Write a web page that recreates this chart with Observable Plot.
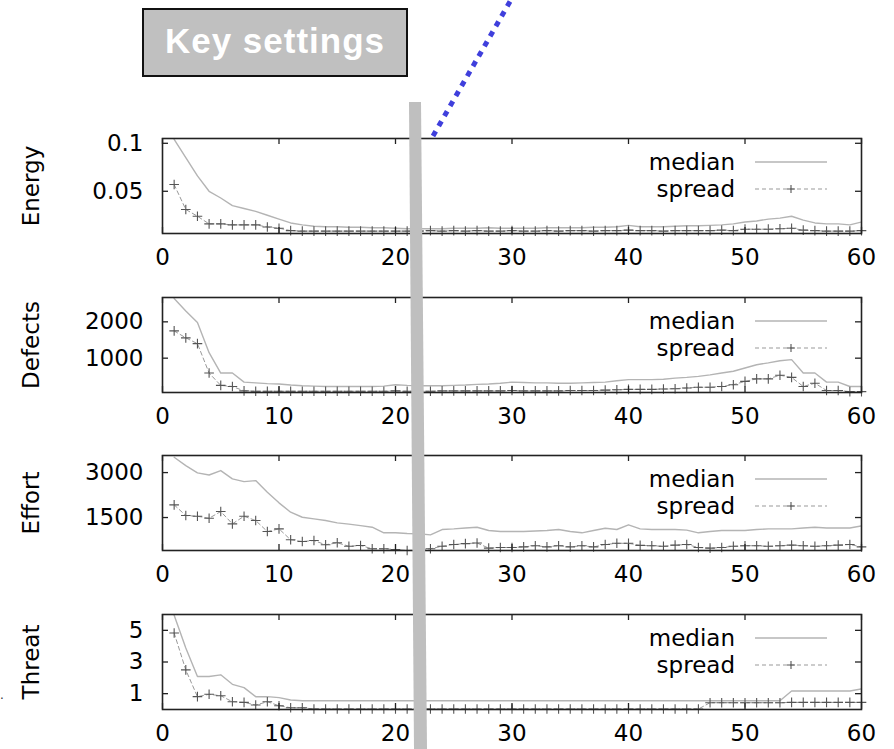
<!DOCTYPE html>
<html>
<head>
<meta charset="utf-8">
<script src="https://cdn.jsdelivr.net/npm/d3@7"></script>
<script src="https://cdn.jsdelivr.net/npm/@observablehq/plot@0.6"></script>
<style>
  html, body { margin: 0; padding: 0; background: #fff; }
  body { width: 894px; height: 749px; position: relative; overflow: hidden; }
  .panel { position: absolute; left: 0; }
  #overlay { position: absolute; left: 0; top: 0; }
</style>
</head>
<body>
<div id="panels"></div>
<svg id="overlay" width="894" height="749"></svg>
<script>
// ---------- data ----------
const generations = [1,2,3,4,5,6,7,8,9,10,11,12,13,14,15,16,17,18,19,20,21,22,23,24,25,26,27,28,29,30,31,32,33,34,35,36,37,38,39,40,41,42,43,44,45,46,47,48,49,50,51,52,53,54,55,56,57,58,59,60];
const xTicks = [0, 10, 20, 30, 40, 50, 60];
const seriesNames = ["median", "spread"];

const energyMedian = [0.104,0.085,0.066,0.050,0.043,0.035,0.032,0.029,0.025,0.021,
  0.017,0.015,0.0135,0.013,0.013,0.0125,0.0125,0.012,0.012,0.0115,
  0.011,0.011,0.011,0.011,0.0115,0.0115,0.0115,0.012,0.0115,0.0115,
  0.0115,0.0115,0.012,0.012,0.012,0.012,0.0125,0.0125,0.013,0.0145,
  0.013,0.013,0.013,0.0135,0.014,0.014,0.0145,0.015,0.016,0.018,
  0.019,0.021,0.022,0.024,0.020,0.017,0.016,0.016,0.015,0.018];
const energySpread = [0.057,0.031,0.024,0.016,0.016,0.015,0.015,0.015,0.0128,0.0115,
  0.009,0.0085,0.0085,0.0085,0.0085,0.0085,0.0085,0.0085,0.0085,0.0085,
  0.0085,0.0085,0.009,0.0085,0.009,0.0085,0.009,0.0085,0.0085,0.009,
  0.0085,0.0085,0.009,0.0085,0.009,0.009,0.0085,0.009,0.009,0.0095,
  0.009,0.009,0.0085,0.009,0.009,0.009,0.009,0.0095,0.009,0.0105,
  0.0105,0.0105,0.011,0.0115,0.0095,0.009,0.0085,0.0085,0.0085,0.009];

const defectsMedian = [2640,2300,1980,1150,590,590,340,320,300,290,
  260,240,230,220,220,220,220,220,230,270,
  250,240,240,240,250,260,280,290,310,340,
  330,320,320,310,310,320,330,340,380,410,
  410,410,420,450,470,500,540,590,640,730,
  820,870,930,960,590,590,340,340,220,220];
const defectsSpread = [1750,1560,1400,590,250,220,100,90,90,90,
  90,90,90,90,90,90,90,90,90,100,
  90,90,90,100,100,100,100,100,100,110,
  100,100,100,100,110,110,110,120,130,140,
  140,140,150,160,180,200,200,220,270,360,
  430,430,530,470,220,310,110,110,80,80];

const effortMedian = [3510,3233,2990,2920,3067,2790,2700,2733,2343,1990,
  1677,1510,1457,1400,1323,1280,1230,1177,990,990,
  967,957,923,1100,1120,1150,1177,1067,1033,1033,
  1033,1050,1067,1100,1033,990,1067,1144,1100,1257,
  1120,1100,1100,1100,1080,990,1033,1067,1067,1067,
  1100,1120,1120,1120,1150,1177,1150,1150,1150,1220];
const effortSpread = [1923,1567,1543,1477,1700,1290,1543,1400,1033,1123,
  757,700,733,590,657,543,567,457,457,433,
  400,420,457,543,600,630,650,480,500,500,
  520,560,520,560,520,560,520,600,640,640,
  570,560,540,580,600,500,480,500,540,560,
  560,540,560,580,560,540,560,580,600,520];

const threatMedian = [5.95,3.88,2.08,2.08,2.19,1.59,1.38,0.81,0.81,0.75,
  0.6,0.55,0.55,0.55,0.55,0.55,0.55,0.55,0.55,0.55,
  0.55,0.55,0.55,0.55,0.55,0.55,0.55,0.55,0.55,0.55,
  0.55,0.55,0.55,0.55,0.55,0.55,0.55,0.55,0.55,0.55,
  0.55,0.55,0.55,0.55,0.55,0.55,0.55,0.55,0.55,0.55,
  0.55,0.55,0.55,1.17,1.17,1.17,1.17,1.17,1.17,1.3];
const threatSpread = [4.83,2.5,0.81,0.96,0.87,0.49,0.45,0.28,0.49,0.24,
  0.11,0.11,0.03,0.03,0.03,0.03,0.03,0.03,0.03,0.03,
  0.03,0.03,0.03,0.03,0.03,0.03,0.03,0.03,0.03,0.03,
  0.03,0.03,0.03,0.03,0.03,0.03,0.03,0.03,0.03,0.03,
  0.03,0.03,0.03,0.03,0.03,0.03,0.43,0.43,0.43,0.43,
  0.43,0.43,0.43,0.45,0.45,0.45,0.45,0.45,0.45,0.45];

const panelLabels = ["Energy", "Defects", "Effort", "Threat"];
const energyTicks = [0.05, 0.1];
const defectsTicks = [1000, 2000];
const effortTicks = [1500, 3000];
const threatTicks = [1, 3, 5];
const energyDomain = [0.006, 0.105];
const defectsDomain = [55, 2670];
const effortDomain = [400, 3570];
const threatDomain = [0, 6];

// ---------- layout ----------
const W = 894, ML = 162, MR = 33, MT = 10, FH = 95, MB = 38;
const FW = W - ML - MR;
const FONT = "'DejaVu Sans', sans-serif";
const FS = 23;

function legendMark(index, scales, values, dims) {
  const d = dims || {width: W, marginRight: MR, marginTop: MT};
  const right = d.width - d.marginRight;
  const top = d.marginTop;
  const g = d3.create("svg:g").attr("font-family", FONT).attr("font-size", FS);
  const rows = [
    {name: seriesNames[0], dy: 24},
    {name: seriesNames[1], dy: 51}
  ];
  rows.forEach((r, i) => {
    const y = top + r.dy;
    g.append("text").attr("x", right - 126).attr("y", y).attr("text-anchor", "end")
      .attr("dy", "0.36em").attr("fill", "#000").text(r.name);
    const line = g.append("line").attr("x1", right - 106).attr("x2", right - 34)
      .attr("y1", y).attr("y2", y);
    if (i === 0) {
      line.attr("stroke", "#b4b4b4").attr("stroke-width", 1.4);
    } else {
      line.attr("stroke", "#999").attr("stroke-width", 1).attr("stroke-dasharray", "4,3");
      const cx = right - 70;
      g.append("path").attr("d", `M${cx-4},${y}h8M${cx},${y-4}v8`)
        .attr("stroke", "#555").attr("stroke-width", 1.1).attr("fill", "none");
    }
  });
  return g.node();
}

function makePanel(label, median, spread, domain, ticks, frameTop) {
  const data = generations.map((g, i) => ({gen: g, median: median[i], spread: spread[i]}));
  const chart = Plot.plot({
    width: W,
    height: MT + FH + MB,
    marginLeft: ML, marginRight: MR, marginTop: MT, marginBottom: MB,
    style: {fontFamily: FONT, fontSize: FS + "px", background: "transparent", color: "#000", overflow: "visible"},
    x: {domain: [0, 60]},
    y: {domain: domain},
    marks: [
      Plot.line(data, {x: "gen", y: "median", stroke: "#b4b4b4", strokeWidth: 1.4, clip: true}),
      Plot.line(data, {x: "gen", y: "spread", stroke: "#999", strokeWidth: 1, strokeDasharray: "4,3", clip: true}),
      Plot.dot(data, {x: "gen", y: "spread", symbol: "plus", r: 3.2, stroke: "#555", strokeWidth: 1.1}),
      Plot.tickX(xTicks, {x: d => d, insetTop: FH - 6, stroke: "#222", strokeWidth: 1.3}),
      Plot.tickX(xTicks, {x: d => d, insetBottom: FH - 6, stroke: "#222", strokeWidth: 1.3}),
      Plot.tickY(ticks, {y: d => d, insetRight: FW - 6, stroke: "#222", strokeWidth: 1.3}),
      Plot.tickY(ticks, {y: d => d, insetLeft: FW - 6, stroke: "#222", strokeWidth: 1.3}),
      Plot.axisX(xTicks, {tickSize: 0, tickPadding: 15, label: null, fontSize: FS, tickFormat: d => String(d)}),
      Plot.axisY(ticks, {tickSize: 0, tickPadding: 19, fontSize: FS, tickFormat: d => String(d),
        label: label, labelAnchor: "center", labelArrow: "none", labelOffset: 140}),
      Plot.frame({stroke: "#222", strokeWidth: 1.6}),
      legendMark
    ]
  });
  const div = document.createElement("div");
  div.className = "panel";
  div.style.top = (frameTop - MT) + "px";
  div.appendChild(chart);
  document.getElementById("panels").appendChild(div);
}

makePanel(panelLabels[0], energyMedian, energySpread, energyDomain, energyTicks, 138);
makePanel(panelLabels[1], defectsMedian, defectsSpread, defectsDomain, defectsTicks, 297);
makePanel(panelLabels[2], effortMedian, effortSpread, effortDomain, effortTicks, 455);
makePanel(panelLabels[3], threatMedian, threatSpread, threatDomain, threatTicks, 614);

// ---------- annotations ----------
const ov = d3.select("#overlay");
ov.append("polygon").attr("points", "409,102 421,102 427,749 414,749").attr("fill", "#bfbfbf");
ov.append("line").attr("x1", 433).attr("y1", 136).attr("x2", 512).attr("y2", -2)
  .attr("stroke", "#3f3fdc").attr("stroke-width", 5).attr("stroke-dasharray", "5.5,6");
ov.append("rect").attr("x", 143).attr("y", 9).attr("width", 264).attr("height", 67)
  .attr("fill", "#c0c0c0").attr("stroke", "#111").attr("stroke-width", 2);
ov.append("text").attr("x", 275).attr("y", 53).attr("text-anchor", "middle")
  .attr("font-family", "'Liberation Sans', Arial, sans-serif").attr("font-weight", "bold")
  .attr("font-size", 35).attr("letter-spacing", 1).attr("fill", "#fff").text("Key settings");
ov.append("text").attr("x", 0).attr("y", 699).attr("font-family", FONT)
  .attr("font-size", 12).attr("fill", "#333").text(".");
</script>
</body>
</html>
